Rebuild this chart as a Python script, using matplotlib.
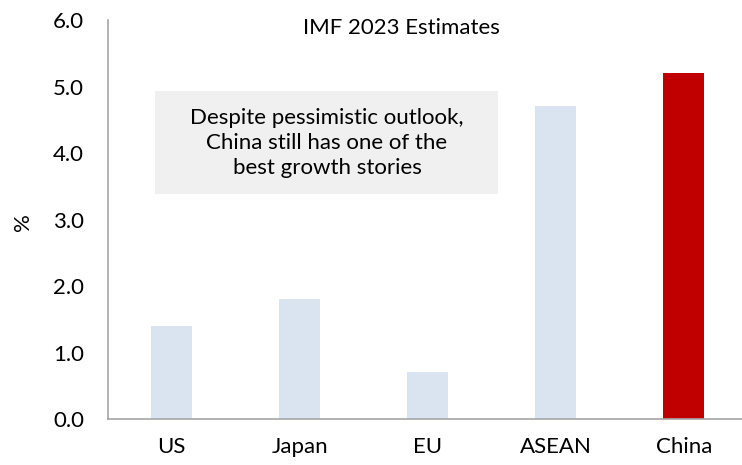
import matplotlib
matplotlib.use("Agg")
import matplotlib.pyplot as plt
from matplotlib.patches import Rectangle

categories = ["US", "Japan", "EU", "ASEAN", "China"]
values = [1.4, 1.8, 0.7, 4.7, 5.2]
colors = ["#dae3f0", "#dae3f0", "#dae3f0", "#dae3f0", "#c00000"]
yticks = [0, 1, 2, 3, 4, 5, 6]
title = "IMF 2023 Estimates"
note = "Despite pessimistic outlook,\nChina still has one of the\nbest growth stories"

plt.rcParams['font.family'] = ['Lato', 'DejaVu Sans']
FS = 16

W, H = 742, 465
fig = plt.figure(figsize=(W / 100, H / 100), dpi=100)
ax = fig.add_axes([107.5 / W, 1 - 419 / H, (748 - 107.5) / W, (419 - 20) / H])

x = list(range(len(categories)))
ax.bar(x, values, width=0.32, color=colors)
ax.set_xlim(-0.5, 4.5)
ax.set_ylim(0, 6)
ax.set_yticks(yticks)
ax.set_yticklabels([f"{v:.1f}" for v in yticks], fontsize=FS)
ax.set_xticks(x)
ax.set_xticklabels(categories, fontsize=FS)
ax.tick_params(axis='x', length=0, pad=13)
ax.tick_params(axis='y', length=0, pad=17)
for s in ["top", "right"]:
    ax.spines[s].set_visible(False)
for s in ["left", "bottom"]:
    ax.spines[s].set_color("#a6a6a6")
    ax.spines[s].set_linewidth(1.2)
ax.set_ylabel("%", fontsize=FS)
ax.yaxis.set_label_coords((33 - 107.5) / (748 - 107.5), (419 - 222) / (419 - 20))

fig.text(401 / W, 1 - 28 / H, title, ha="center", va="center", fontsize=FS)

fig.patches.append(Rectangle((155 / W, 1 - 194 / H), (498 - 155) / W, (194 - 91) / H,
                             transform=fig.transFigure, facecolor="#f0f0f0",
                             edgecolor="none", zorder=0))
fig.text(327 / W, 1 - 143 / H, note, ha="center", va="center", fontsize=FS,
         linespacing=1.3, zorder=3)

fig.savefig("out.png", dpi=100)
